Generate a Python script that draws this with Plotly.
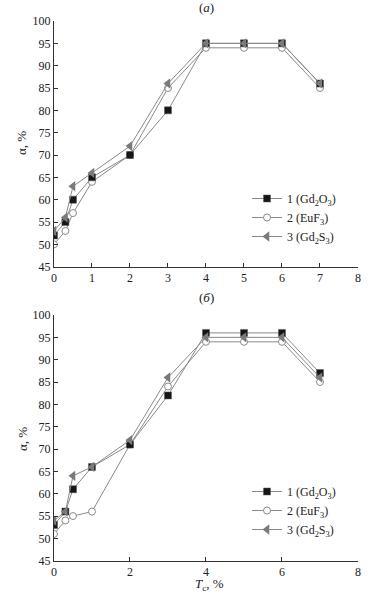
import plotly.graph_objects as go

x_vals = [0, 0.3, 0.5, 1, 2, 3, 4, 5, 6, 7]
a_gd2o3 = [52, 55, 60, 65, 70, 80, 95, 95, 95, 86]
a_euf3 = [50, 53, 57, 64, 70, 85, 94, 94, 94, 85]
a_gd2s3 = [53, 56, 63, 66, 72, 86, 95, 95, 95, 86]
b_gd2o3 = [53, 56, 61, 66, 71, 82, 96, 96, 96, 87]
b_euf3 = [51, 54, 55, 56, 71, 84, 94, 94, 94, 85]
b_gd2s3 = [54, 56, 64, 66, 72, 86, 95, 95, 95, 86]

names = ["1 (Gd<sub>2</sub>O<sub>3</sub>)", "2 (EuF<sub>3</sub>)", "3 (Gd<sub>2</sub>S<sub>3</sub>)"]
y_ticks = [45, 50, 55, 60, 65, 70, 75, 80, 85, 90, 95, 100]
xa_ticks = [0, 1, 2, 3, 4, 5, 6, 7, 8]
xb_ticks = [0, 2, 4, 6, 8]

FONT = "Liberation Serif"
LINE = "#8a8a8a"

styles = [
    dict(symbol="square", size=7, color="#161616", line=dict(color="#555", width=0.5)),
    dict(symbol="circle", size=7, color="white", line=dict(color="#8a8a8a", width=1)),
    dict(symbol="triangle-left", size=9, color="#7a7a7a", line=dict(color="#7a7a7a", width=0)),
]

fig = go.Figure()
draw_order = [1, 0, 2]
for panel, (series, xr, yr, leg) in enumerate([
    ((a_gd2o3, a_euf3, a_gd2s3), "x", "y", "legend"),
    ((b_gd2o3, b_euf3, b_gd2s3), "x2", "y2", "legend2"),
]):
    for i in draw_order:
        fig.add_trace(go.Scatter(
            x=x_vals, y=series[i], mode="lines+markers", name=names[i],
            line=dict(color=LINE, width=1), marker=styles[i],
            xaxis=xr, yaxis=yr, legend=leg, legendrank=i + 1,
        ))

ax_common = dict(showgrid=False, zeroline=False, showline=True, linecolor="#333",
                 linewidth=1, ticks="inside", ticklen=4, tickcolor="#333", automargin=False,
                 tickfont=dict(family=FONT, size=12, color="#222"))

fig.update_layout(
    width=380, height=599, margin=dict(l=0, r=0, t=0, b=0, autoexpand=False),
    plot_bgcolor="white", paper_bgcolor="white", showlegend=True,
    xaxis=dict(domain=[0.1421, 0.9421], range=[0, 8], tickvals=xa_ticks, anchor="y", **ax_common),
    yaxis=dict(domain=[0.5548, 0.9649], range=[45, 100], tickvals=y_ticks, anchor="x", **ax_common),
    xaxis2=dict(domain=[0.1421, 0.9421], range=[0, 8], tickvals=xb_ticks, anchor="y2", **ax_common),
    yaxis2=dict(domain=[0.0639, 0.4741], range=[45, 100], tickvals=y_ticks, anchor="x2", **ax_common),
    legend=dict(x=0.65, y=1 - 184 / 599, xanchor="left", yanchor="top", bgcolor="rgba(0,0,0,0)",
                font=dict(family=FONT, size=12, color="#222"), tracegroupgap=0, itemwidth=30),
    legend2=dict(x=0.65, y=1 - 477 / 599, xanchor="left", yanchor="top", bgcolor="rgba(0,0,0,0)",
                 font=dict(family=FONT, size=12, color="#222"), tracegroupgap=0, itemwidth=30),
)

ann = dict(showarrow=False, xref="paper", yref="paper", xanchor="center", yanchor="middle",
           font=dict(family=FONT, size=13, color="#222"))
fig.add_annotation(text="(<i>а</i>)", x=206 / 380, y=1 - 8 / 599, **ann)
fig.add_annotation(text="(<i>б</i>)", x=206 / 380, y=1 - 297 / 599, **ann)
fig.add_annotation(text="<i>T</i><sub>c</sub>, %", x=209 / 380, y=1 - 584 / 599, **ann)
fig.add_annotation(text="α, %", x=22 / 380, y=1 - 143 / 599, textangle=-90, **ann)
fig.add_annotation(text="α, %", x=22 / 380, y=1 - 439 / 599, textangle=-90, **ann)

fig.write_html("out.html", config={"displayModeBar": False},
               post_script="document.body.style.margin='0';document.body.style.padding='0';")
